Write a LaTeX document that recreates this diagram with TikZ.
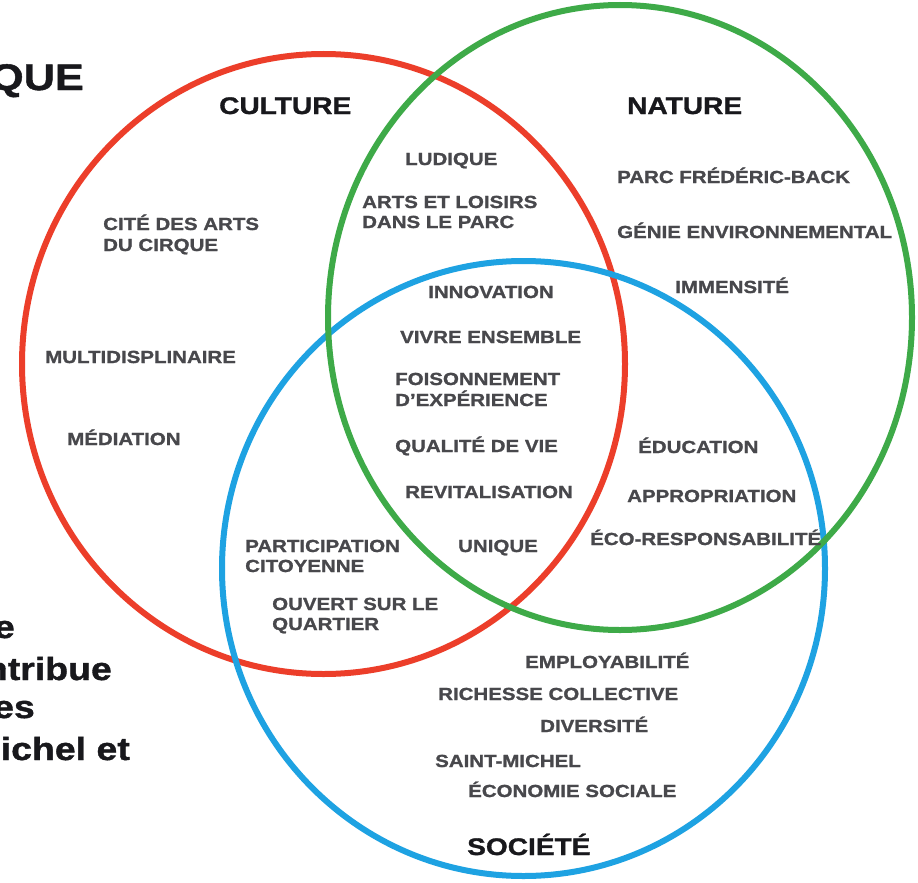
\documentclass[tikz,border=0pt]{standalone}
\usepackage{fontspec}
\setmainfont{Liberation Sans}[FakeStretch=1.17, FakeBold=1.2]
\definecolor{ringred}{RGB}{236,62,42}
\definecolor{ringgreen}{RGB}{62,170,72}
\definecolor{ringblue}{RGB}{30,162,226}
\definecolor{labgray}{RGB}{72,72,76}
\definecolor{ttlblack}{RGB}{24,24,28}
\tikzset{
  lab/.style={font=\bfseries\fontsize{17.5}{21}\selectfont, text=labgray, inner sep=0pt, anchor=base west},
  ttl/.style={font=\bfseries\fontsize{24}{28}\selectfont, text=ttlblack, inner sep=0pt, anchor=base west},
  big/.style={font=\bfseries\fontsize{32}{40}\selectfont, text=ttlblack, inner sep=0pt, anchor=base east},
  ring/.style={line width=6pt}
}
\begin{document}
\begin{tikzpicture}[x=1pt,y=-1pt]
\useasboundingbox[fill=white] (0,0) rectangle (918,883);
% rings
\draw[ring, ringred] (323.5,364) ellipse [x radius=301.5, y radius=310];
\draw[ring, ringblue] (523.5,568.5) ellipse [x radius=301.5, y radius=307.5];
\draw[ring, ringgreen] (620,317.5) ellipse [x radius=292, y radius=312.5];
% cropped outside text
\node[big, font=\bfseries\fontsize{37}{40}\selectfont] (que) at (84,90) {QUE};
\node[big] (t1) at (15,638) {e};
\node[big] (t2) at (112,680) {ntribue};
\node[big] (t3) at (35,718) {es};
\node[big] (t4) at (130,760) {ichel et};
% titles
\node[ttl] (culture) at (219,114) {CULTURE};
\node[ttl] (nature) at (627,114) {NATURE};
\node[ttl] (societe) at (467,855) {SOCIÉTÉ};
% culture
\node[lab] (cite1) at (103,230) {CITÉ DES ARTS};
\node[lab] (cite2) at (103,251) {DU CIRQUE};
\node[lab] (multi) at (45,363) {MULTIDISPLINAIRE};
\node[lab] (medi) at (67,445) {MÉDIATION};
% culture & nature
\node[lab] (ludique) at (405,165) {LUDIQUE};
\node[lab] (arts1) at (362,208) {ARTS ET LOISIRS};
\node[lab] (arts2) at (362,228) {DANS LE PARC};
% nature
\node[lab] (parc) at (617,183) {PARC FRÉDÉRIC-BACK};
\node[lab] (genie) at (617,238) {GÉNIE ENVIRONNEMENTAL};
\node[lab] (immen) at (675,293) {IMMENSITÉ};
% centre
\node[lab] (innov) at (428,298) {INNOVATION};
\node[lab] (vivre) at (400,343) {VIVRE ENSEMBLE};
\node[lab] (fois1) at (395,385) {FOISONNEMENT};
\node[lab] (fois2) at (395,406) {D’EXPÉRIENCE};
\node[lab] (qual) at (395,452) {QUALITÉ DE VIE};
\node[lab] (revit) at (405,498) {REVITALISATION};
\node[lab] (unique) at (458,552) {UNIQUE};
% nature & societe
\node[lab] (educ) at (638,453) {ÉDUCATION};
\node[lab] (appro) at (627,502) {APPROPRIATION};
\node[lab] (eco) at (590,545) {ÉCO-RESPONSABILITÉ};
% culture & societe
\node[lab] (part1) at (245,552) {PARTICIPATION};
\node[lab] (part2) at (245,572) {CITOYENNE};
\node[lab] (ouv1) at (272,610) {OUVERT SUR LE};
\node[lab] (ouv2) at (272,630) {QUARTIER};
% societe
\node[lab] (empl) at (525,668) {EMPLOYABILITÉ};
\node[lab] (rich) at (438,700) {RICHESSE COLLECTIVE};
\node[lab] (div) at (540,732) {DIVERSITÉ};
\node[lab] (saint) at (435,767) {SAINT-MICHEL};
\node[lab] (econ) at (468,797) {ÉCONOMIE SOCIALE};
\end{tikzpicture}
\end{document}
